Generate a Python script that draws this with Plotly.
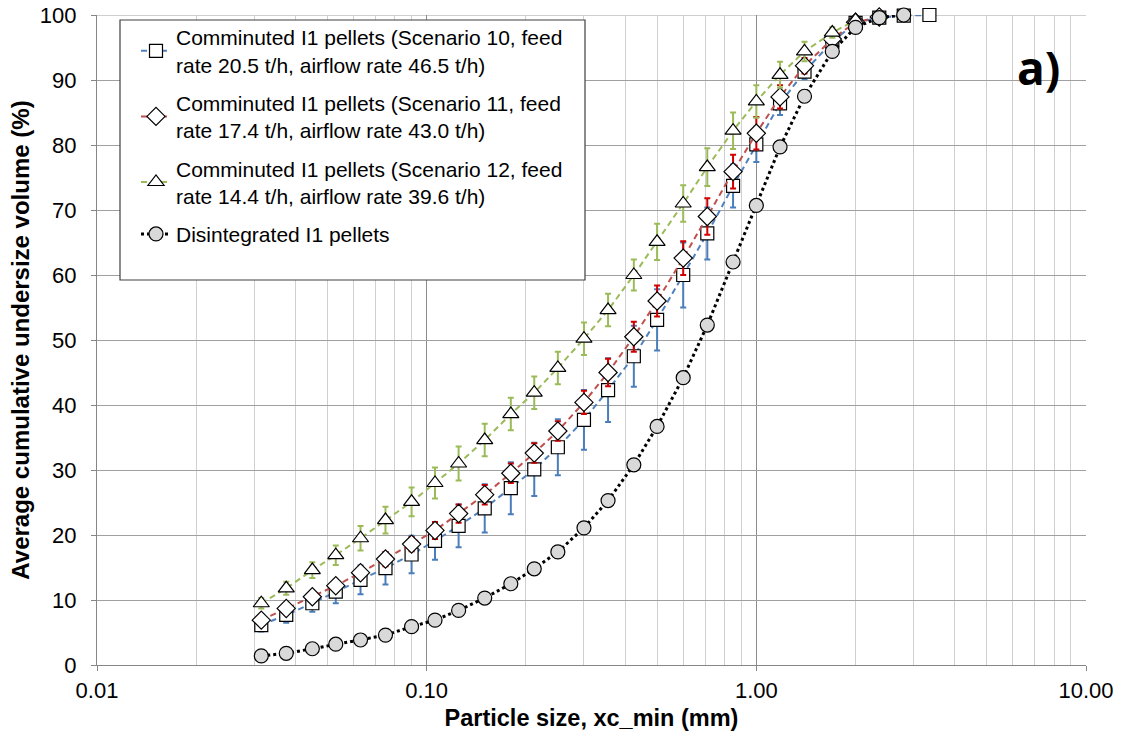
import plotly.graph_objects as go

# Particle sizes (mm)
sizes = [0.0315, 0.0375, 0.045, 0.053, 0.063, 0.075, 0.090, 0.106, 0.125, 0.150,
         0.180, 0.212, 0.250, 0.300, 0.355, 0.425, 0.500, 0.600, 0.710, 0.850,
         1.00, 1.18, 1.40, 1.70, 2.00, 2.36, 2.80, 3.35]

sc10_vals = [6.15, 7.7, 9.5, 11.3, 13.1, 14.9, 17.0, 19.1, 21.4, 24.1,
             27.2, 30.1, 33.5, 37.7, 42.3, 47.5, 53.1, 60.0, 66.4, 73.7,
             80.1, 86.4, 91.3, 95.9, 98.8, 99.6, 99.9, 100.0]
sc10_err = [1.0, 1.2, 1.3, 1.8, 2.2, 2.5, 2.9, 2.9, 3.3, 3.7,
            4.0, 4.1, 4.3, 4.6, 4.9, 4.7, 4.7, 5.0, 4.0, 3.3,
            2.7, 1.8, 1.2, 0.8, 0.4, 0.2, 0.1, 0.0]

sc11_vals = [6.9, 8.7, 10.5, 12.2, 14.2, 16.3, 18.6, 20.7, 23.3, 26.2,
             29.5, 32.6, 36.0, 40.4, 45.0, 50.5, 56.0, 62.6, 69.0, 75.9,
             81.8, 87.4, 92.2, 96.3, 98.9, 99.7]
sc11_err = [0.5, 0.6, 0.7, 0.8, 0.9, 1.1, 1.1, 1.3, 1.4, 1.5,
            1.5, 1.5, 1.5, 1.8, 2.1, 2.3, 2.4, 2.6, 2.8, 2.6,
            2.5, 1.8, 1.2, 0.7, 0.3, 0.1]

sc12_vals = [9.5, 11.8, 14.6, 16.9, 19.5, 22.3, 25.1, 28.0, 31.0, 34.6,
             38.6, 41.9, 45.7, 50.2, 54.6, 60.0, 65.1, 71.0, 76.6, 82.2,
             86.7, 90.8, 94.4, 97.3, 99.2]
sc12_err = [0.8, 1.0, 1.2, 1.5, 1.9, 2.05, 2.2, 2.4, 2.6, 2.5,
            2.5, 2.5, 2.5, 2.5, 2.5, 2.4, 2.8, 2.8, 2.9, 2.8,
            2.5, 2.0, 1.5, 0.8, 0.3]

disint_vals = [1.4, 1.8, 2.5, 3.2, 3.85, 4.6, 5.9, 6.9, 8.4, 10.3,
               12.5, 14.8, 17.4, 21.1, 25.3, 30.8, 36.7, 44.2, 52.3, 62.0,
               70.7, 79.7, 87.5, 94.4, 98.1, 99.6, 100.0]

names = [
    "Comminuted I1 pellets (Scenario 10, feed<br>rate 20.5 t/h, airflow rate 46.5 t/h)",
    "Comminuted I1 pellets (Scenario 11, feed<br>rate 17.4 t/h, airflow rate 43.0 t/h)",
    "Comminuted I1 pellets (Scenario 12, feed<br>rate 14.4 t/h, airflow rate 39.6 t/h)",
    "Disintegrated I1 pellets",
]

x_tickvals = [0.01, 0.1, 1, 10]
x_ticktext = ["0.01", "0.10", "1.00", "10.00"]
minor_vals = [m * d for d in [0.01, 0.1, 1] for m in range(2, 10)]

FONT = "Liberation Sans, Arial, sans-serif"

# page body margin removed via post_script; plot area (screen) = x 97..1086, y 15..665
W, H = 1122, 742
L, R, T, B = 97, 36, 15, 77
PW, PH = W - L - R, H - T - B


def px(sx):
    return (sx - L) / PW


def py(sy):
    return (H - B - sy) / PH


fig = go.Figure()

fig.add_trace(go.Scatter(
    x=sizes, y=sc10_vals, name=names[0], mode="lines+markers", legendgroup="a",
    cliponaxis=False,
    line=dict(color="#4F81BD", width=2, dash="6px,4px"),
    marker=dict(symbol="square", size=13, color="white", line=dict(color="black", width=1.2)),
    error_y=dict(type="data", array=sc10_err, color="#4A7EBB", thickness=2, width=3),
))
fig.add_trace(go.Scatter(
    x=sizes[:len(sc11_vals)], y=sc11_vals, name=names[1], mode="lines+markers", legendgroup="b",
    cliponaxis=False,
    line=dict(color="#C0504D", width=2, dash="6px,4px"),
    marker=dict(symbol="diamond", size=14, color="white", line=dict(color="black", width=1.2)),
    error_y=dict(type="data", array=sc11_err, color="#D00000", thickness=2, width=3),
))
fig.add_trace(go.Scatter(
    x=sizes[:len(sc12_vals)], y=sc12_vals, name=names[2], mode="lines+markers", legendgroup="c",
    cliponaxis=False,
    line=dict(color="#9BBB59", width=2, dash="6px,4px"),
    marker=dict(symbol="triangle-up", size=14, color="white", line=dict(color="black", width=1.2)),
    error_y=dict(type="data", array=sc12_err, color="#9BBB59", thickness=2, width=3),
))
fig.add_trace(go.Scatter(
    x=sizes[:len(disint_vals)], y=disint_vals, name=names[3], mode="lines+markers", legendgroup="d",
    cliponaxis=False,
    line=dict(color="black", width=3, dash="dot"),
    marker=dict(symbol="circle", size=14, color="#D9D9D9", line=dict(color="black", width=1.2)),
))

fig.add_shape(type="rect", xref="paper", yref="paper",
              x0=px(120), x1=px(585), y0=py(280), y1=py(20),
              fillcolor="white", line=dict(color="#404040", width=1.2), layer="above")

# top border gridline at 100 %
fig.add_shape(type="line", xref="paper", yref="y", x0=0, x1=1, y0=100, y1=100,
              line=dict(color="#A0A0A0", width=1), layer="below")

fig.add_annotation(text="<b>a)</b>", xref="paper", yref="paper",
                   x=px(1038), y=py(67), showarrow=False,
                   font=dict(family="Open Sans, Liberation Sans, sans-serif", size=46, color="black"),
                   xanchor="center", yanchor="middle")

fig.update_layout(
    width=W, height=H,
    margin=dict(l=L, r=R, t=T, b=B, autoexpand=False),
    paper_bgcolor="white", plot_bgcolor="white",
    font=dict(family=FONT, size=21, color="black"),
    showlegend=True,
    legend=dict(x=px(136), y=py(17), xanchor="left", yanchor="top",
                bgcolor="rgba(0,0,0,0)", borderwidth=0, tracegroupgap=8,
                font=dict(family=FONT, size=21, color="black"), itemwidth=30),
    xaxis=dict(
        type="log", range=[-2, 1], automargin=False,
        tickvals=x_tickvals, ticktext=x_ticktext, ticklabeloverflow="allow",
        showgrid=True, gridcolor="#8C8C8C", gridwidth=1,
        showline=True, linecolor="#868686", linewidth=1.2,
        ticks="outside", ticklen=5, tickcolor="#868686",
        tickfont=dict(family=FONT, size=22),
        minor=dict(tickvals=minor_vals, showgrid=True, gridcolor="#D0D0D0", gridwidth=1, ticks=""),
        title=dict(text="<b>Particle size, xc_min (mm)</b>", font=dict(family=FONT, size=23.5), standoff=8),
        zeroline=False,
    ),
    yaxis=dict(
        range=[0, 100], dtick=10, tick0=0, automargin=False, ticklabeloverflow="allow",
        showgrid=True, gridcolor="#A0A0A0", gridwidth=1,
        showline=True, linecolor="#868686", linewidth=1.2,
        ticks="outside", ticklen=5, tickcolor="#868686", ticklabelstandoff=10,
        tickfont=dict(family=FONT, size=22),
        title=dict(text="<b>Average cumulative undersize volume (%)</b>", font=dict(family=FONT, size=24), standoff=3),
        zeroline=False,
    ),
)

fig.write_html("out.html", config={"displayModeBar": False},
               post_script="document.body.style.margin='0';document.body.style.overflow='hidden';")
